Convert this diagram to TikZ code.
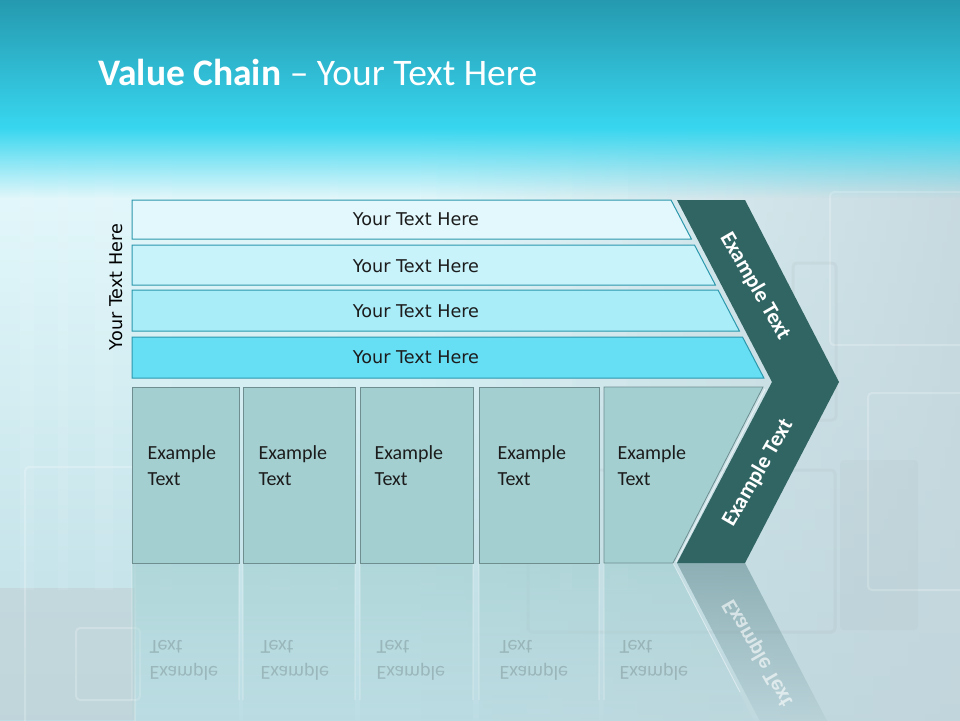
\documentclass[tikz,border=0pt]{standalone}
\usepackage{fontspec}
\usepackage{graphicx}
\setmainfont{Carlito}
\newfontfamily\dejavu{DejaVu Sans}
\usetikzlibrary{fadings}
\definecolor{titletop}{HTML}{2497AD}
\definecolor{titlebot}{HTML}{38D6EF}
\definecolor{bgT}{HTML}{E6FAFD}
\definecolor{bgB}{HTML}{BCDDE4}
\definecolor{bgR}{HTML}{C3D5DB}
\definecolor{bggrey}{HTML}{C2D1D5}
\definecolor{barline}{HTML}{2B98AC}
\definecolor{barA}{HTML}{E3F8FD}
\definecolor{barB}{HTML}{C8F3FB}
\definecolor{barC}{HTML}{A9EDF9}
\definecolor{barD}{HTML}{66DFF5}
\definecolor{chev}{HTML}{316563}
\definecolor{boxfill}{HTML}{A3CFD1}
\definecolor{boxline}{HTML}{6E8E90}
\definecolor{reflchev}{HTML}{6F979C}
\definecolor{txtdark}{HTML}{1C1C1C}
\tikzfading[name=fadedown, top color=transparent!0, bottom color=transparent!100]
\tikzfading[name=fadeup, top color=transparent!100, bottom color=transparent!0]
\tikzfading[name=faderight, left color=transparent!100, right color=transparent!0]
\tikzfading[name=reflfade, top color=transparent!35, bottom color=transparent!100]
\tikzset{
  barbox/.style={draw=barline, line width=1pt},
  bartext/.style={font=\dejavu\fontsize{17.6}{21}\selectfont, text=txtdark},
  colbox/.style={fill=boxfill, draw=boxline, line width=0.8pt},
  boxtext/.style={font=\fontsize{20}{26}\selectfont, text=txtdark, align=left, anchor=west},
  chevtext/.style={font=\bfseries\fontsize{22}{26}\selectfont, text=white},
  reflbox/.style={fill=boxfill, path fading=reflfade},
  reflline/.style={draw=white, opacity=0.45, line width=0.8pt},
  refltext/.style={text=black, opacity=0.16, anchor=west},
  deco/.style={draw=white, opacity=0.22, line width=2pt, rounded corners=4pt},
  decog/.style={draw=gray, opacity=0.07, line width=3pt, rounded corners=4pt}
}
\newcommand{\flipbox}[1]{\scalebox{1}[-1]{\begin{minipage}[c]{90pt}\fontsize{20}{26}\selectfont #1\end{minipage}}}
\begin{document}
\begin{tikzpicture}[x=1pt,y=-1pt]
\useasboundingbox (0,0) rectangle (960,720);
\begin{scope}
\clip (0,0) rectangle (960,720);
% background
\fill[top color=bgT, bottom color=bgB] (-5,128) rectangle (970,725);
\fill[color=bgR, path fading=faderight, opacity=0.85] (420,128) rectangle (970,725);
\fill[color=bggrey, opacity=0.6] (0,588) rectangle (135,720);
\foreach \xx/\ww in {20/14, 58/10, 95/18, 160/12, 270/20, 330/8, 420/16, 560/12, 610/18}
  \fill[white, opacity=0.07] (\xx,135) rectangle (\xx+\ww,590);
\draw[deco] (830,192) rectangle (975,345);
\draw[deco] (868,393) rectangle (975,590);
\fill[gray, opacity=0.05, rounded corners=4pt] (840,460) rectangle (918,630);
\draw[decog] (793,263) rectangle (836,420);
\draw[decog] (528,470) rectangle (835,632);
\draw[deco] (25,467) rectangle (135,730);
\draw[deco] (76,628) rectangle (140,700);
\fill[color=titlebot, path fading=fadedown] (-5,128) rectangle (970,198);
% title bar
\fill[top color=titletop, bottom color=titlebot] (-5,-5) rectangle (970,128);
\end{scope}
\node[anchor=base west, text=white, font=\fontsize{37.5}{42}\selectfont, inner sep=0pt] (title) at (98,85) {\textbf{Value Chain} – Your Text Here};
% reflections
\begin{scope}
\clip (0,563) rectangle (960,720);
\path[reflbox] (132,563) rectangle (239,739);
\path[reflbox] (243,563) rectangle (355,739);
\path[reflbox] (360,563) rectangle (473,739);
\path[reflbox] (479,563) rectangle (599,739);
\path[reflbox] (604,563) -- (673,563) -- (763,739) -- (604,739) -- cycle;
\draw[reflline] (132,563) -- (132,700) (239,563) -- (239,700) (243,563) -- (243,700) (355,563) -- (355,700)
  (360,563) -- (360,700) (473,563) -- (473,700) (479,563) -- (479,700) (599,563) -- (599,700)
  (604,563) -- (604,700) (673,563) -- (740,692);
\fill[reflchev, path fading=reflfade] (677,563) -- (745,563) -- (839,744) -- (772,744) -- cycle;
\end{scope}
\node[refltext] (r1) at (146,660) {\flipbox{Example\\Text}};
\node[refltext] (r2) at (257,660) {\flipbox{Example\\Text}};
\node[refltext] (r3) at (373,660) {\flipbox{Example\\Text}};
\node[refltext] (r4) at (496,660) {\flipbox{Example\\Text}};
\node[refltext] (r5) at (616,660) {\flipbox{Example\\Text}};
\node[text=white, opacity=0.6, rotate=-60, font=\bfseries\fontsize{22}{26}\selectfont] (r6) at (758,653) {\scalebox{1}[-1]{Example Text}};
% bars
\path[barbox, fill=barA] (132,200) -- (671,200) -- (691.4,239) -- (132,239) -- cycle;
\path[barbox, fill=barB] (132,245) -- (694.5,245) -- (715.4,285) -- (132,285) -- cycle;
\path[barbox, fill=barC] (132,290) -- (718,290) -- (739.4,331) -- (132,331) -- cycle;
\path[barbox, fill=barD] (132,337) -- (742.5,337) -- (763.9,378) -- (132,378) -- cycle;
\node[bartext] (b1) at (416,219) {Your Text Here};
\node[bartext] (b2) at (416,266) {Your Text Here};
\node[bartext] (b3) at (416,311) {Your Text Here};
\node[bartext] (b4) at (416,357) {Your Text Here};
\node[bartext, text=black, rotate=90] (side) at (116,287) {Your Text Here};
% chevron
\fill[chev] (677,200) -- (745,200) -- (839,382) -- (745,563) -- (677,563) -- (772,382) -- cycle;
\node[chevtext, rotate=-60] (c1) at (755,286) {Example Text};
\node[chevtext, rotate=60] (c2) at (758,473) {Example Text};
% columns
\path[colbox] (132,387) rectangle (239,563);
\path[colbox] (243,387) rectangle (355,563);
\path[colbox] (360,387) rectangle (473,563);
\path[colbox] (479,387) rectangle (599,563);
\path[colbox] (604,387) -- (763,387) -- (673,563) -- (604,563) -- cycle;
\draw[white, opacity=0.6, line width=1pt] (765,389) -- (676,562);
\node[boxtext] (k1) at (144,466) {Example\\Text};
\node[boxtext] (k2) at (255,466) {Example\\Text};
\node[boxtext] (k3) at (371,466) {Example\\Text};
\node[boxtext] (k4) at (494,466) {Example\\Text};
\node[boxtext] (k5) at (614,466) {Example\\Text};
\end{tikzpicture}
\end{document}
